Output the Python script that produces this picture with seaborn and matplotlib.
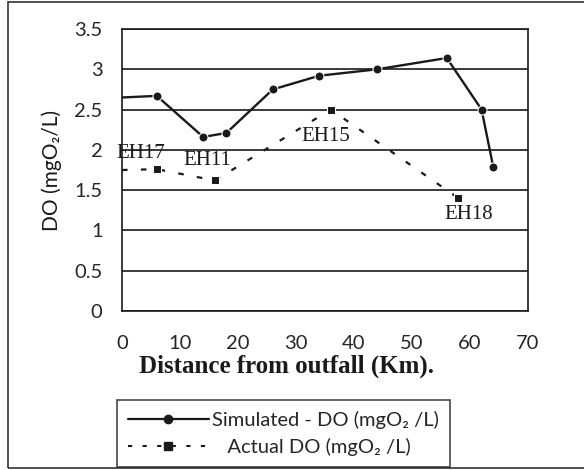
import numpy as np
import pandas as pd
import matplotlib
matplotlib.use("Agg")
import matplotlib.pyplot as plt
import seaborn as sns
from matplotlib.ticker import MultipleLocator, FuncFormatter
from matplotlib.patches import Rectangle
from matplotlib.lines import Line2D

# Values
sim_km = [0, 6, 14, 18, 26, 34, 44, 56, 62, 64]
sim_do = [2.65, 2.67, 2.16, 2.21, 2.75, 2.92, 3.0, 3.14, 2.5, 1.79]
act_km = [0, 6, 16, 36, 58]
act_do = [1.75, 1.76, 1.62, 2.5, 1.4]
station_names = ["EH17", "EH11", "EH15", "EH18"]
station_x = [3.3, 14.7, 35.2, 59.8]
station_y = [1.96, 1.87, 2.16, 1.20]

sim_label = "Simulated - DO (mgO\u2082 /L)"
act_label = "   Actual DO (mgO\u2082 /L)"

sns.set_style("white")
plt.rcParams['font.family'] = ['Lato', 'DejaVu Sans']

sim_df = pd.DataFrame({"km": sim_km, "do": sim_do})
act_df = pd.DataFrame({"km": act_km, "do": act_do})

fig = plt.figure(figsize=(5.84, 4.70), dpi=100)
ax = fig.add_axes([122/584, 1 - 311/470, (528-122)/584, (311-29)/470])

sns.lineplot(data=sim_df, x="km", y="do", ax=ax, color="#1a1a1a", lw=1.7,
             marker="o", markersize=6.5, markevery=list(range(1, len(sim_km))),
             zorder=4)
sns.lineplot(data=act_df, x="km", y="do", ax=ax, color="#1a1a1a", lw=1.6,
             marker="s", markersize=5.5, markevery=list(range(1, len(act_km))),
             dashes=False, linestyle=(0, (2.5, 6)), zorder=4)

for name, x, y in zip(station_names, station_x, station_y):
    ax.text(x, y, name, ha="center", va="center", fontsize=15,
            family="Liberation Serif", color="#1a1a1a", zorder=5)

ax.set_xlim(0, 70)
ax.set_ylim(0, 3.5)
ax.xaxis.set_major_locator(MultipleLocator(10))
ax.xaxis.set_minor_locator(MultipleLocator(2))
ax.yaxis.set_major_locator(MultipleLocator(0.5))
ax.yaxis.set_major_formatter(FuncFormatter(lambda v, p: "%g" % v))
ax.tick_params(axis="x", which="both", direction="in", length=3, width=1,
               color="#1a1a1a", labelsize=14.5, pad=17)
ax.tick_params(axis="y", direction="out", length=5, width=1.2,
               color="#1a1a1a", labelsize=14.5, pad=9)
ax.grid(axis="y", color="#1a1a1a", lw=1.2)
ax.grid(axis="x", visible=False)
for s in ax.spines.values():
    s.set_color("#1a1a1a")
    s.set_linewidth(1.2)

ax.set_xlabel("Distance from outfall (Km).", family="Liberation Serif",
              fontweight="bold", fontsize=18, color="#1a1a1a")
ax.xaxis.set_label_coords(0.406, -0.155)
ax.set_ylabel("")
# y title placed at its spot in the picture
fig.text(52/584, 1 - 170/470, "DO (mgO\u2082/L)", fontsize=15, color="#1a1a1a",
         rotation=90, ha="center", va="center")

handles = [
    Line2D([], [], color="#1a1a1a", lw=1.6, marker="o", markersize=6),
    Line2D([], [], color="#1a1a1a", lw=1.5, marker="s", markersize=5.5,
           linestyle=(0, (2, 5))),
]
leg = fig.legend(handles, [sim_label, act_label], loc="upper left",
                 bbox_to_anchor=(117/584, 1 - 400/470), fontsize=14.5,
                 frameon=True, fancybox=False, edgecolor="#1a1a1a",
                 handlelength=4.0, handletextpad=0.15, borderpad=0.55,
                 labelspacing=0.45, borderaxespad=0)
leg.get_frame().set_linewidth(1.2)

# outer frame of the picture
fig.patches.append(Rectangle((8/584, 2/470), 1.2, 466/470, transform=fig.transFigure,
                             fill=False, edgecolor="#333333", lw=1.2))

fig.savefig("out.png", dpi=100)
